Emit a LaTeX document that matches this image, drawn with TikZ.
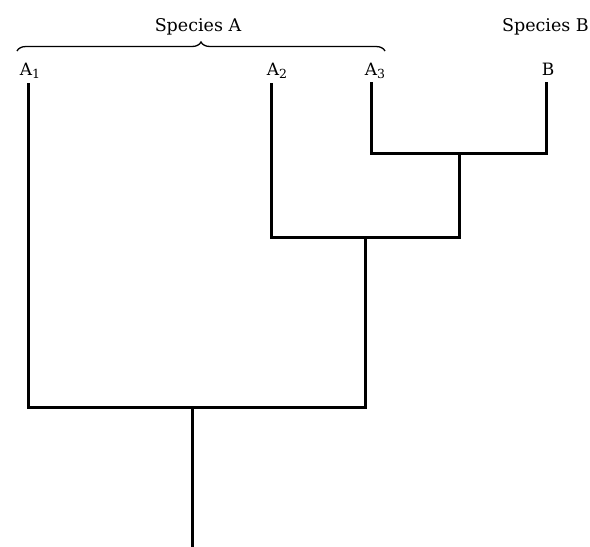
\documentclass[tikz,border=0pt]{standalone}
\usepackage{fontspec}
\setmainfont{DejaVu Serif}
\usetikzlibrary{decorations.pathreplacing}
\newcommand{\lsub}[1]{\raisebox{-3.5pt}{\fontsize{12.5}{14}\selectfont #1}}
\begin{document}
\begin{tikzpicture}[x=1pt,y=-1pt,
  branch/.style={line width=3pt,line cap=rect},
  leaf/.style={inner sep=0pt,font=\fontsize{17}{20}\selectfont},
  title/.style={inner sep=0pt,font=\fontsize{17.5}{20}\selectfont}]
\useasboundingbox (0,0) rectangle (590,547);
% leaf labels
\node[leaf,anchor=base] (a1) at (30,75) {A\lsub{1}};
\node[leaf,anchor=base] (a2) at (277,75) {A\lsub{2}};
\node[leaf,anchor=base] (a3) at (375,75) {A\lsub{3}};
\node[leaf,anchor=base] (b) at (548,75) {B};
% tree coordinates
\coordinate (t1) at (28,84);
\coordinate (t2) at (271,84);
\coordinate (t3) at (371,83);
\coordinate (tb) at (546,83);
\coordinate (n3b) at (459,153);
\coordinate (n2) at (365,237);
\coordinate (n1) at (192,407);
\coordinate (root) at (192,547);
% branches
\draw[branch] (t3) |- (n3b) -| (tb);
\draw[branch] (n3b) -- (n3b |- n2);
\draw[branch] (t2) |- (n2) -- (n3b |- n2);
\draw[branch] (n2) -- (n2 |- n1);
\draw[branch] (t1) |- (n1) -- (n2 |- n1);
\draw[branch] (n1) -- (root);
% brace and titles
\coordinate (bl) at (17,51);
\coordinate (br) at (385,51);
\draw[line width=1.3pt,decorate,decoration={brace,amplitude=9pt}] (bl) -- (br);
\node[title,anchor=base] (spa) at (198,31) {Species A};
\node[title,anchor=base east] (spb) at (589,31) {Species B};
\end{tikzpicture}
\end{document}
